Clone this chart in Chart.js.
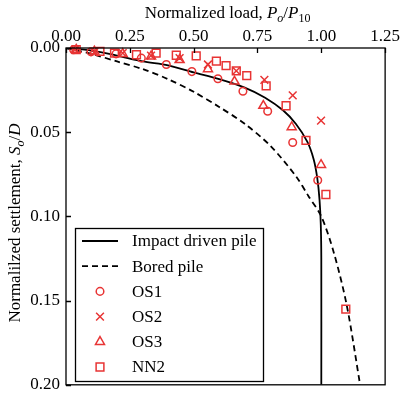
<!DOCTYPE html>
<html><head><meta charset="utf-8">
<script src="https://cdn.jsdelivr.net/npm/chart.js@4.4.0/dist/chart.umd.min.js"></script>
<style>html,body{margin:0;padding:0;background:#fff}#wrap{width:401px;height:401px}</style>
</head><body><div id="wrap"><canvas id="c" width="401" height="401"></canvas></div>
<script>
// ---- data ----
const loadTicks = [0, 0.25, 0.5, 0.75, 1.0, 1.25];
const settleTicks = [0, 0.05, 0.10, 0.15, 0.20];

const impactLoad   = [0, 0.1, 0.2, 0.3, 0.4, 0.5, 0.6, 0.7, 0.78, 0.85, 0.9, 0.945, 0.97, 0.984, 0.993, 0.998, 1.0, 1.0];
const impactSettle = [0, 0.0015, 0.0045, 0.008, 0.0103, 0.0145, 0.0185, 0.0235, 0.0295, 0.037, 0.045, 0.0556, 0.066, 0.077, 0.09, 0.105, 0.125, 0.2];

const boredLoad   = [0, 0.1, 0.2, 0.3, 0.4, 0.5, 0.6, 0.7, 0.8, 0.9, 0.95, 1.0, 1.05, 1.1, 1.152];
const boredSettle = [0, 0.0035, 0.008, 0.0125, 0.0185, 0.026, 0.035, 0.045, 0.058, 0.076, 0.088, 0.1, 0.122, 0.153, 0.2];

const os1Load   = [0.03, 0.098, 0.196, 0.295, 0.393, 0.493, 0.595, 0.693, 0.79, 0.888, 0.986];
const os1Settle = [0.001, 0.0022, 0.0035, 0.006, 0.0098, 0.014, 0.0183, 0.0257, 0.0376, 0.0561, 0.0785];

const os2Load   = [0.035, 0.111, 0.222, 0.333, 0.445, 0.556, 0.667, 0.777, 0.888, 0.999];
const os2Settle = [0.001, 0.0025, 0.003, 0.0045, 0.006, 0.0098, 0.0136, 0.0189, 0.0281, 0.0431];

const os3Load   = [0.04, 0.111, 0.222, 0.333, 0.445, 0.556, 0.66, 0.773, 0.884, 0.999];
const os3Settle = [0.001, 0.002, 0.0035, 0.005, 0.007, 0.0125, 0.0199, 0.0343, 0.047, 0.0694];

const nn2Load   = [0.04, 0.133, 0.19, 0.276, 0.353, 0.432, 0.51, 0.589, 0.627, 0.667, 0.708, 0.784, 0.862, 0.94, 1.018, 1.096];
const nn2Settle = [0.001, 0.002, 0.003, 0.004, 0.003, 0.0043, 0.0047, 0.0078, 0.0105, 0.0136, 0.0164, 0.0225, 0.0343, 0.0548, 0.087, 0.155];

// ---- helpers ----
const pts = (xs, ys) => xs.map((x, i) => ({x: x, y: ys[i]}));
const RED = 'rgb(232,52,52)';
const FONT = '"Liberation Serif", "Times New Roman", serif';

function drawRuns(ctx, runs, cx, cy, size) {
  const subSize = Math.round(size * 0.72);
  const fontOf = r => (r.italic ? 'italic ' : '') + (r.sub ? subSize : size) + 'px ' + FONT;
  let total = 0;
  runs.forEach(r => { ctx.font = fontOf(r); r.w = ctx.measureText(r.t).width; total += r.w; });
  let x = cx - total / 2;
  ctx.textAlign = 'left';
  ctx.textBaseline = 'alphabetic';
  runs.forEach(r => { ctx.font = fontOf(r); ctx.fillText(r.t, x, cy + (r.sub ? 4 : 0)); x += r.w; });
}

const decorPlugin = {
  id: 'decor',
  afterDatasetsDraw(chart) {
    const ctx = chart.ctx, a = chart.chartArea;
    const xs = chart.scales.x, ys = chart.scales.y;
    ctx.save();
    ctx.strokeStyle = '#000';
    ctx.lineWidth = 1.3;
    ctx.strokeRect(a.left, a.top, a.right - a.left, a.bottom - a.top);
    // inward tick marks
    ctx.beginPath();
    loadTicks.forEach(v => { const px = Math.round(xs.getPixelForValue(v)) + 0.5; ctx.moveTo(px, a.top); ctx.lineTo(px, a.top + 5); });
    settleTicks.forEach(v => { const py = Math.round(ys.getPixelForValue(v)) + 0.5; ctx.moveTo(a.left, py); ctx.lineTo(a.left + 5, py); });
    ctx.stroke();

    // legend
    const L = {x: 75, y: 228, w: 188, h: 153};
    ctx.fillStyle = '#fff';
    ctx.fillRect(L.x, L.y, L.w, L.h);
    ctx.lineWidth = 1.3;
    ctx.strokeStyle = '#000';
    ctx.strokeRect(L.x + 0.5, L.y + 0.5, L.w, L.h);
    chart.data.datasets.forEach((ds, i) => {
      const cy = 241 + i * 25.2;
      ctx.save();
      if (ds.showLine) {
        ctx.strokeStyle = ds.borderColor;
        ctx.lineWidth = ds.borderWidth;
        ctx.setLineDash(ds.borderDash || []);
        ctx.beginPath(); ctx.moveTo(82, cy); ctx.lineTo(118, cy); ctx.stroke();
      } else {
        ctx.strokeStyle = ds.borderColor;
        ctx.fillStyle = 'rgba(0,0,0,0)';
        ctx.lineWidth = ds.borderWidth;
        Chart.helpers.drawPoint(ctx, {pointStyle: ds.pointStyle, radius: ds.pointRadius, rotation: 0, borderWidth: ds.borderWidth}, 100, cy);
      }
      ctx.restore();
      ctx.fillStyle = '#000';
      ctx.font = '17px ' + FONT;
      ctx.textAlign = 'left';
      ctx.textBaseline = 'middle';
      ctx.fillText(ds.label, 132, cy + 1);
    });

    // axis titles
    ctx.fillStyle = '#000';
    drawRuns(ctx, [
      {t: 'Normalized load, '}, {t: 'P', italic: true}, {t: 'o', italic: true, sub: true},
      {t: '/'}, {t: 'P', italic: true}, {t: '10', sub: true}
    ], (a.left + a.right) / 2 + 2, 18, 17);
    ctx.save();
    ctx.translate(20, 223);
    ctx.rotate(-Math.PI / 2);
    drawRuns(ctx, [
      {t: 'Normalilzed settlement, '}, {t: 'S', italic: true}, {t: 'o', italic: true, sub: true},
      {t: '/'}, {t: 'D', italic: true}
    ], 0, 0, 17);
    ctx.restore();
    ctx.restore();
  }
};

const lineDs = (label, xs, ys, dash) => ({
  type: 'scatter', label: label, data: pts(xs, ys), showLine: true,
  borderColor: '#000', backgroundColor: '#000', borderWidth: 1.8, borderDash: dash,
  pointRadius: 0, pointHoverRadius: 0, tension: 0.3, order: 2
});
const markDs = (label, xs, ys, style, r) => ({
  type: 'scatter', label: label, data: pts(xs, ys), showLine: false,
  borderColor: RED, backgroundColor: 'rgba(0,0,0,0)', borderWidth: 1.5,
  pointStyle: style, pointRadius: r, pointHoverRadius: r, clip: false, order: 1
});

new Chart(document.getElementById('c'), {
  type: 'scatter',
  data: {
    datasets: [
      lineDs('Impact driven pile', impactLoad, impactSettle, []),
      lineDs('Bored pile', boredLoad, boredSettle, [6, 4]),
      markDs('OS1', os1Load, os1Settle, 'circle', 3.8),
      markDs('OS2', os2Load, os2Settle, 'crossRot', 5.5),
      markDs('OS3', os3Load, os3Settle, 'triangle', 5.2),
      markDs('NN2', nn2Load, nn2Settle, 'rect', 5.5)
    ]
  },
  options: {
    responsive: false, animation: false, devicePixelRatio: 1,
    layout: {padding: {left: 0, top: 0, right: 15, bottom: 11}},
    plugins: {legend: {display: false}, tooltip: {enabled: false}},
    scales: {
      x: {
        type: 'linear', position: 'top', min: 0, max: 1.25,
        afterBuildTicks: s => { s.ticks = loadTicks.map(v => ({value: v})); },
        afterFit: s => { s.height = 48; },
        grid: {display: false, drawTicks: false},
        border: {display: false},
        ticks: {color: '#000', padding: 1, maxRotation: 0, font: {family: FONT, size: 17}, callback: v => Number(v).toFixed(2)}
      },
      y: {
        type: 'linear', min: 0, max: 0.2, reverse: true,
        afterBuildTicks: s => { s.ticks = settleTicks.map(v => ({value: v})); },
        afterFit: s => { s.width = 66; },
        grid: {display: false, drawTicks: false},
        border: {display: false},
        ticks: {color: '#000', padding: 6, font: {family: FONT, size: 17}, callback: v => Number(v).toFixed(2)}
      }
    }
  },
  plugins: [decorPlugin]
});
</script>
</body></html>
